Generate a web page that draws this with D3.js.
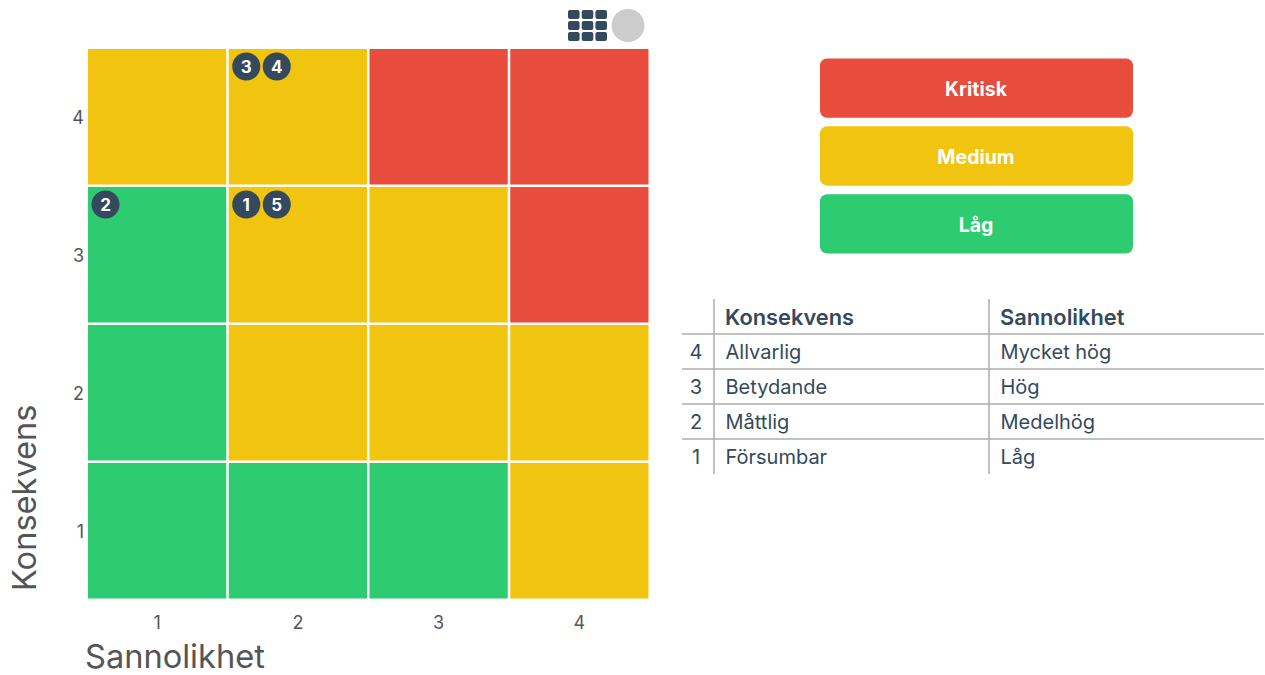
<!DOCTYPE html>
<html>
<head>
<meta charset="utf-8">
<script src="https://cdn.jsdelivr.net/npm/d3@7"></script>
<style>
    html, body { margin: 0; padding: 0; background: #fff; }
    text { font-family: Inter, "Noto Sans", sans-serif; }
</style>
</head>
<body>
<svg id="chart" width="1265" height="675"></svg>
<script>
const likelihoods = [1, 2, 3, 4];
const consequences = [4, 3, 2, 1];

// rows run from consequence 4 down to 1
const riskRows = [
    ["medium", "medium", "critical", "critical"],
    ["low", "medium", "medium", "critical"],
    ["low", "medium", "medium", "medium"],
    ["low", "low", "low", "medium"]
];

const riskColors = { critical: "#e74c3c", medium: "#f1c40f", low: "#2ecc71" };

const legendKeys = ["critical", "medium", "low"];
const legendLabels = ["Kritisk", "Medium", "Låg"];

const riskIds = [1, 2, 3, 4, 5];
const riskLikelihood = [2, 1, 2, 2, 2];
const riskConsequence = [3, 3, 4, 4, 3];
const riskSlot = [0, 0, 0, 1, 1];

const tableHeaders = ["", "Konsekvens", "Sannolikhet"];
const tableLevels = [4, 3, 2, 1];
const tableConsequence = ["Allvarlig", "Betydande", "Måttlig", "Försumbar"];
const tableLikelihood = ["Mycket hög", "Hög", "Medelhög", "Låg"];

const svg = d3.select("#chart");
const dark = "#34495e";
const grey = "#555";

const x = d3.scaleBand().domain(likelihoods).range([88, 648.5]).paddingInner(0.018).paddingOuter(0);
const y = d3.scaleBand().domain(consequences).range([49, 598.5]).paddingInner(0.018).paddingOuter(0);

const cells = [];
riskRows.forEach((row, i) => {
    row.forEach((key, j) => {
        cells.push({ l: likelihoods[j], c: consequences[i], key: key });
    });
});

svg.append("g").selectAll("rect")
    .data(cells)
    .enter()
    .append("rect")
    .attr("x", d => x(d.l))
    .attr("y", d => y(d.c))
    .attr("width", x.bandwidth())
    .attr("height", y.bandwidth())
    .attr("fill", d => riskColors[d.key]);

// axes
const xAxis = svg.append("g")
    .attr("transform", "translate(0,599)")
    .call(d3.axisBottom(x).tickSize(0).tickPadding(17));
const yAxis = svg.append("g")
    .attr("transform", "translate(88,1)")
    .call(d3.axisLeft(y).tickSize(0).tickPadding(4));
[xAxis, yAxis].forEach(a => {
    a.select(".domain").remove();
    a.selectAll("text")
        .style("font-size", "18px")
        .attr("fill", grey);
});

svg.append("text")
    .text("Sannolikhet")
    .attr("x", 85)
    .attr("y", 668)
    .attr("font-size", "32.6px")
    .attr("fill", grey);

svg.append("text")
    .text("Konsekvens")
    .attr("transform", "translate(36,591) rotate(-90)")
    .attr("font-size", "32.6px")
    .attr("fill", grey);

// risk badges
const badges = svg.append("g").selectAll("g")
    .data(riskIds)
    .enter()
    .append("g")
    .attr("transform", (d, i) => {
        const bx = x(riskLikelihood[i]) + 17.5 + riskSlot[i] * 30.5;
        const by = y(riskConsequence[i]) + 17.5;
        return `translate(${bx},${by})`;
    });
badges.append("circle").attr("r", 14).attr("fill", dark);
badges.append("text")
    .text(d => d)
    .attr("text-anchor", "middle")
    .attr("dy", "0.36em")
    .attr("font-size", "17px")
    .attr("font-weight", "700")
    .attr("fill", "#fff");

// legend
const legendY = d3.scaleBand().domain(legendKeys).range([58.5, 253.5]).paddingInner(0.125).paddingOuter(0);
const legend = svg.append("g").selectAll("g")
    .data(legendKeys)
    .enter()
    .append("g")
    .attr("transform", d => `translate(820,${legendY(d)})`);
legend.append("rect")
    .attr("width", 313)
    .attr("height", legendY.bandwidth())
    .attr("rx", 7)
    .attr("fill", d => riskColors[d]);
legend.append("text")
    .text((d, i) => legendLabels[i])
    .attr("x", 156)
    .attr("y", legendY.bandwidth() / 2 + 1)
    .attr("dy", "0.36em")
    .attr("text-anchor", "middle")
    .attr("font-size", "19.5px")
    .attr("font-weight", "700")
    .attr("fill", "#fff");

// table
const lineColor = "#adadad";
const colX = [682, 714, 989, 1264];
const rowY = d3.scaleBand().domain(tableLevels).range([334, 474]);
const table = svg.append("g");

table.selectAll("line.h")
    .data([334].concat(tableLevels.slice(0, 3).map(l => rowY(l) + rowY.bandwidth())))
    .enter()
    .append("line")
    .attr("class", "h")
    .attr("x1", colX[0]).attr("x2", colX[3])
    .attr("y1", d => d).attr("y2", d => d)
    .attr("stroke", lineColor)
    .attr("stroke-width", 1.5);

table.selectAll("line.v")
    .data([colX[1], colX[2]])
    .enter()
    .append("line")
    .attr("class", "v")
    .attr("x1", d => d).attr("x2", d => d)
    .attr("y1", 299).attr("y2", 474)
    .attr("stroke", lineColor)
    .attr("stroke-width", 1.5);

table.selectAll("text.head")
    .data(tableHeaders.slice(1))
    .enter()
    .append("text")
    .attr("class", "head")
    .text(d => d)
    .attr("x", (d, i) => colX[i + 1] + 11)
    .attr("y", 325)
    .attr("font-size", "21.8px")
    .attr("font-weight", "600")
    .attr("fill", dark);

tableLevels.forEach((level, i) => {
    const ty = rowY(level) + rowY.bandwidth() / 2 + 7.5;
    const row = [level, tableConsequence[i], tableLikelihood[i]];
    table.selectAll(`text.r${level}`)
        .data(row)
        .enter()
        .append("text")
        .attr("class", `r${level}`)
        .text(d => d)
        .attr("x", (d, j) => j === 0 ? 696 : colX[j] + 11.5)
        .attr("y", ty)
        .attr("text-anchor", (d, j) => j === 0 ? "middle" : "start")
        .attr("font-size", "20px")
        .attr("fill", dark);
});

// toolbar icons
const iconCols = [568, 581.7, 595.4];
const iconRows = [10, 21, 32];
const icon = svg.append("g");
iconRows.forEach(ry => {
    icon.selectAll(null)
        .data(iconCols)
        .enter()
        .append("rect")
        .attr("x", d => d)
        .attr("y", ry)
        .attr("width", 11.6)
        .attr("height", 9)
        .attr("rx", 2)
        .attr("fill", dark);
});
svg.append("circle")
    .attr("cx", 628)
    .attr("cy", 25.5)
    .attr("r", 16.5)
    .attr("fill", "#cccccc");
</script>
</body>
</html>
